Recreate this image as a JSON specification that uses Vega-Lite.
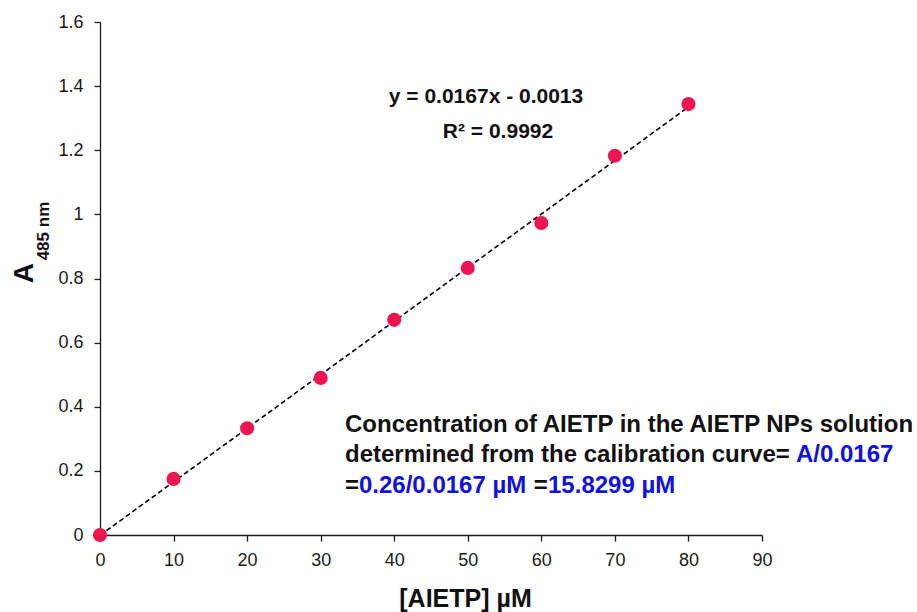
{
  "$schema": "https://vega.github.io/schema/vega-lite/v6.json",
  "width": 662,
  "height": 513,
  "autosize": "none",
  "padding": {"left": 100, "top": 22, "right": 155, "bottom": 77},
  "background": "white",
  "config": {
    "view": {"stroke": null},
    "font": "Liberation Sans",
    "axis": {
      "grid": false,
      "domainColor": "#1a1a1a",
      "domainWidth": 1.3,
      "tickColor": "#1a1a1a",
      "tickWidth": 1.3,
      "tickSize": 6,
      "labelFont": "Liberation Sans",
      "labelFontSize": 18,
      "labelColor": "#1a1a1a",
      "labelFlush": false,
      "titleFont": "Liberation Sans"
    }
  },
  "datasets": {
    "points": [
      {"conc": 0, "abs": 0},
      {"conc": 10, "abs": 0.175},
      {"conc": 20, "abs": 0.333},
      {"conc": 30, "abs": 0.49},
      {"conc": 40, "abs": 0.671},
      {"conc": 50, "abs": 0.833},
      {"conc": 60, "abs": 0.973},
      {"conc": 70, "abs": 1.183},
      {"conc": 80, "abs": 1.344}
    ],
    "notes": [
      {"text": "y = 0.0167x - 0.0013", "x": 52.48, "y": 1.366, "kind": "eq"},
      {"text": "R² = 0.9992", "x": 54.11, "y": 1.257, "kind": "eq"}
    ],
    "para": [
      {"text": "Concentration of AIETP in the AIETP NPs solution", "x": 33.31, "y": 0.343, "tone": "black"},
      {"text": "determined from the calibration curve=", "x": 33.31, "y": 0.2495, "tone": "black"},
      {"text": "A/0.0167", "x": 94.62, "y": 0.2495, "tone": "blue"},
      {"text": "=", "x": 33.31, "y": 0.153, "tone": "black"},
      {"text": "0.26/0.0167 µM", "x": 35.21, "y": 0.153, "tone": "blue"},
      {"text": "=", "x": 58.96, "y": 0.153, "tone": "black"},
      {"text": "15.8299 µM", "x": 60.91, "y": 0.153, "tone": "blue"}
    ],
    "ytitle": [
      {"text": "A", "x": -10.2, "y": 0.817, "part": "main"},
      {"text": "485 nm", "x": -7.61, "y": 0.948, "part": "sub"}
    ]
  },
  "layer": [
    {
      "data": {"name": "points"},
      "transform": [{"regression": "abs", "on": "conc", "extent": [0, 80]}],
      "mark": {"type": "line", "color": "black", "strokeWidth": 1.6, "strokeDash": [5, 3]},
      "encoding": {
        "x": {
          "field": "conc", "type": "quantitative",
          "scale": {"domain": [0, 90]},
          "axis": {
            "values": [0, 10, 20, 30, 40, 50, 60, 70, 80, 90],
            "title": "[AIETP] µM",
            "titleFontSize": 25,
            "titleFontWeight": "bold",
            "titleColor": "#111",
            "titleX": 365,
            "titleY": 63,
            "titleAlign": "center",
            "titleBaseline": "middle",
            "labelPadding": 10
          }
        },
        "y": {
          "field": "abs", "type": "quantitative",
          "scale": {"domain": [0, 1.6]},
          "axis": {
            "values": [0, 0.2, 0.4, 0.6, 0.8, 1, 1.2, 1.4, 1.6],
            "format": "~g",
            "title": null,
            "labelPadding": 11
          }
        }
      }
    },
    {
      "data": {"name": "points"},
      "mark": {"type": "point", "filled": true, "color": "#EE1650", "opacity": 1, "size": 200},
      "encoding": {
        "x": {"field": "conc", "type": "quantitative"},
        "y": {"field": "abs", "type": "quantitative"}
      }
    },
    {
      "data": {"name": "notes"},
      "mark": {"type": "text", "fontSize": 21, "fontWeight": "bold", "color": "#111", "align": "center", "baseline": "middle"},
      "encoding": {
        "x": {"field": "x", "type": "quantitative"},
        "y": {"field": "y", "type": "quantitative"},
        "text": {"field": "text"}
      }
    },
    {
      "data": {"name": "para"},
      "mark": {"type": "text", "fontSize": 24, "fontWeight": "bold", "align": "left", "baseline": "middle", "clip": false},
      "encoding": {
        "x": {"field": "x", "type": "quantitative"},
        "y": {"field": "y", "type": "quantitative"},
        "text": {"field": "text"},
        "color": {
          "field": "tone", "type": "nominal",
          "scale": {"domain": ["black", "blue"], "range": ["#111111", "#1010E0"]},
          "legend": null
        }
      }
    },
    {
      "data": {"name": "ytitle"},
      "mark": {"type": "text", "fontWeight": "bold", "angle": 270, "align": "center", "baseline": "middle", "color": "#111"},
      "encoding": {
        "x": {"field": "x", "type": "quantitative"},
        "y": {"field": "y", "type": "quantitative"},
        "text": {"field": "text"},
        "size": {
          "field": "part", "type": "nominal",
          "scale": {"domain": ["main", "sub"], "range": [28, 17]},
          "legend": null
        }
      }
    }
  ]
}
